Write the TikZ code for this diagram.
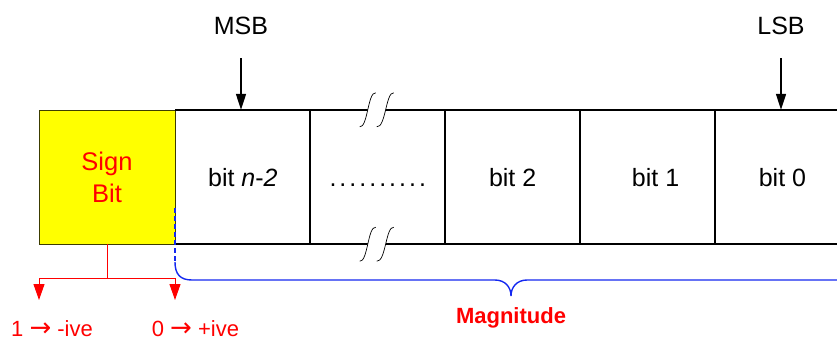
\documentclass[tikz,border=0pt]{standalone}
\usepackage{fontspec}
\setmainfont{Liberation Sans}
\newfontfamily\arrowfont{DejaVu Sans}
\usetikzlibrary{arrows.meta}

\definecolor{signyellow}{RGB}{255,255,0}
\definecolor{signedge}{RGB}{60,60,0}
\definecolor{braceblue}{RGB}{20,40,240}

\newcommand{\meansarrow}{{\arrowfont\fontsize{26}{26}\selectfont →}}

\tikzset{
  cell/.style={minimum width=134.5pt, minimum height=134pt, inner sep=0pt,
    text height=18pt, text depth=0pt, font=\fontsize{25}{29}\selectfont},
  signbox/.style={minimum width=136pt, minimum height=134pt, inner sep=0pt,
    fill=signyellow, draw=signedge, line width=0.8pt, text=red, align=center,
    font=\fontsize{25.5}{32}\selectfont},
  cellline/.style={line width=2pt, black},
  pointer/.style={line width=1.5pt, -{Triangle[width=10pt,length=16pt]}},
  signline/.style={red, line width=1pt},
  signarrow/.style={signline, -{Triangle[width=11pt,length=16pt]}},
  bracepath/.style={draw=braceblue, line width=1.4pt},
  tag/.style={anchor=base, inner sep=0pt, font=\fontsize{25}{29}\selectfont},
  signtag/.style={anchor=base, inner sep=0pt, text depth=0pt, text=red,
    font=\fontsize{22}{26}\selectfont},
  magtag/.style={anchor=base, inner sep=0pt, text=red, font=\fontsize{22}{26}\selectfont\bfseries},
  lbreak/.pic={
    \fill[white] (-9,17) .. controls (-1,18) and (-1,-18) .. (7,-17) -- (25,-17)
      .. controls (17,-18) and (17,18) .. (8,17) -- cycle;
    \draw[line width=0.7pt] (-9,17) .. controls (-1,18) and (-1,-18) .. (7,-17);
    \draw[line width=0.7pt] (8,17) .. controls (17,18) and (17,-18) .. (25,-17);
  }
}

\begin{document}
\begin{tikzpicture}[x=1pt, y=-1pt]
\useasboundingbox (0,0) rectangle (837,341);
\clip (0,0) rectangle (837,341);

% sign bit
\node[signbox] (sign) at (107,177) {Sign\\Bit};

% magnitude cells
\node[cell, anchor=west] (c1) at (sign.east) {bit \textit{n}-\textit{2}};
\node[cell, anchor=west] (c2) at (c1.east) {.\hskip3pt.\hskip3pt.\hskip3pt.\hskip3pt.\hskip3pt.\hskip3pt.\hskip3pt.\hskip3pt.\hskip3pt.};
\node[cell, anchor=west] (c3) at (c2.east) {bit 2};
\node[cell, anchor=west] (c4) at (c3.east) {\hspace*{16pt}bit 1};
\node[cell, anchor=west] (c5) at (c4.east) {bit 0};

\draw[cellline] (c1.north west) -- (c5.north east);
\draw[cellline] (c1.south west) -- (c5.south east);
\foreach \c in {c2,c3,c4,c5}
  \draw[cellline] (\c.north west) -- (\c.south west);

% break marks on the register outline
\pic at ([xshift=-9pt]c2.north) {lbreak};
\pic at ([xshift=-9pt]c2.south) {lbreak};

% MSB / LSB pointers
\node[tag] (msb) at (241,34) {MSB};
\coordinate (msbtail) at (241,58);
\draw[pointer] (msbtail) -- (msbtail |- c1.north);
\node[tag] (lsb) at (781,34) {LSB};
\coordinate (lsbtail) at (781,58);
\draw[pointer] (lsbtail) -- (lsbtail |- c5.north);

% sign meaning
\coordinate (split) at (107,278);
\coordinate (negtip) at (39,300);
\coordinate (postip) at (175,300);
\draw[signline] (sign.south) -- (split);
\draw[signarrow] (split) -| (negtip);
\draw[signarrow] (split) -| (postip);
\node[signtag] (neg) at (52,336) {1 \meansarrow{} -ive};
\node[signtag] (pos) at (195.5,336) {0 \meansarrow{} +ive};

% magnitude brace
\draw[bracepath, dash pattern=on 5pt off 3pt] (175,208) -- (175,262);
\draw[bracepath] (175,262) .. controls (175,274) and (180,280) .. (192,280)
  -- (495,280) .. controls (505,280) and (511,287) .. (511,296)
  .. controls (511,287) and (517,280) .. (527,280) -- (845,280);
\node[magtag] (mag) at (511,323) {Magnitude};
\end{tikzpicture}
\end{document}
